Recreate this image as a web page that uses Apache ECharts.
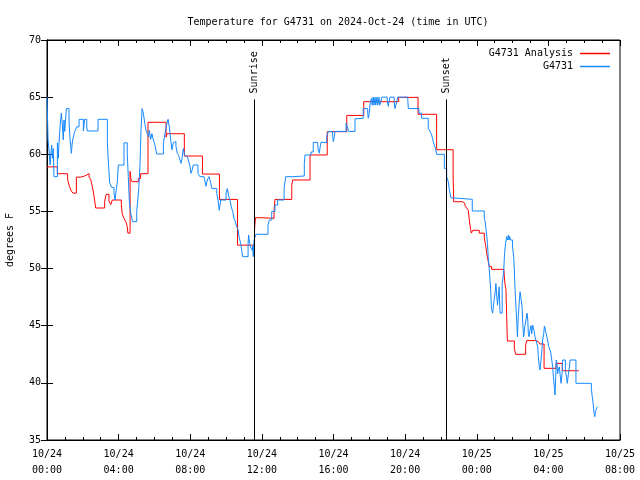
<!DOCTYPE html>
<html>
<head>
<meta charset="utf-8">
<script src="https://cdn.jsdelivr.net/npm/echarts@6/dist/echarts.min.js"></script>
<style>html,body{margin:0;padding:0;background:#fff}#c{width:640px;height:480px}</style>
</head>
<body>
<div id="c"></div>
<script>
// hours since 2024-10-24 00:00 UTC
const redHours = [0.0,0.58,1.15,1.25,1.35,1.45,1.64,1.88,2.1,2.22,2.35,2.44,2.53,2.62,2.72,3.22,3.31,3.46,3.56,3.65,4.15,4.2,4.3,4.4,4.48,4.52,4.64,4.69,4.75,5.1,5.23,5.64,6.65,6.7,7.67,8.68,9.63,10.64,11.59,11.64,11.95,12.05,12.68,12.73,13.67,13.72,14.69,15.65,16.74,17.69,19.64,20.72,21.76,22.68,22.71,23.21,23.34,23.44,23.53,23.58,23.66,23.7,23.77,24.14,24.42,24.5,24.55,24.65,24.7,24.83,25.52,25.58,25.63,25.67,25.71,26.1,26.17,26.73,26.79,27.3,27.44,27.53,27.76,28.43,28.78,29.69];
const redTemps = [58.9,58.3,57.8,57.2,56.8,56.6,58.0,58.1,58.2,58.3,58.0,57.8,57.2,56.4,55.3,55.9,56.5,55.9,55.6,56.0,55.6,54.8,54.4,54.1,53.7,53.1,58.5,57.8,57.6,57.9,58.3,62.8,61.5,61.8,59.85,58.27,56.05,52.05,53.4,54.45,54.3,54.4,55.0,56.05,57.3,57.75,59.94,61.98,63.4,64.6,64.98,63.5,60.4,58.2,55.85,55.7,55.5,55.3,55.1,54.3,53.4,53.1,53.35,53.1,52.7,52.0,51.4,50.55,50.17,49.93,49.7,48.6,48.2,45.9,43.66,43.0,42.5,43.3,43.7,43.6,43.5,43.4,41.27,41.7,41.06,41.06];

const blueHours = [0.0,0.06,0.11,0.17,0.21,0.26,0.3,0.35,0.39,0.58,0.63,0.67,0.73,0.8,0.86,0.91,0.95,0.99,1.08,1.23,1.28,1.36,1.41,1.47,1.55,1.66,1.79,2.03,2.1,2.22,2.25,2.85,3.37,3.42,3.5,3.61,3.74,3.8,3.85,3.93,3.98,4.3,4.48,4.54,4.6,4.67,4.78,5.01,5.12,5.19,5.25,5.31,5.38,5.46,5.53,5.6,5.68,5.71,5.79,5.86,5.94,6.03,6.12,6.5,6.59,6.68,6.76,6.83,6.91,6.98,7.05,7.15,7.2,7.28,7.35,7.43,7.48,7.54,7.61,7.69,7.76,7.84,7.91,7.99,8.04,8.1,8.17,8.43,8.54,8.77,8.88,8.95,9.05,9.14,9.21,9.48,9.55,9.62,9.7,10.0,10.07,10.15,10.22,10.29,10.37,10.44,10.52,10.59,10.67,10.74,10.82,10.87,10.93,11.23,11.26,11.32,11.37,11.45,11.49,11.52,11.56,11.62,11.67,12.34,12.42,12.55,12.73,12.88,13.24,13.33,13.72,14.37,14.41,14.74,14.87,15.12,15.15,15.21,15.25,15.3,15.62,15.71,15.95,15.99,16.05,16.08,16.7,16.77,16.85,17.2,17.26,17.66,17.91,17.94,17.98,18.02,18.06,18.13,18.16,18.22,18.26,18.32,18.36,18.43,18.47,18.54,18.58,18.65,18.69,19.0,19.06,19.1,19.16,19.39,19.43,19.53,19.58,20.15,20.18,20.77,20.92,21.29,21.39,21.48,21.53,21.57,21.63,21.7,21.76,22.19,22.32,22.41,22.47,22.55,22.6,23.75,24.42,24.47,24.52,24.6,24.64,24.7,24.78,24.82,24.89,24.95,25.02,25.07,25.12,25.16,25.25,25.3,25.42,25.5,25.55,25.61,25.67,25.7,25.73,25.77,25.8,25.84,25.88,26.0,26.06,26.1,26.14,26.19,26.23,26.27,26.32,26.38,26.42,26.53,26.57,26.62,26.69,26.75,26.81,26.85,26.88,26.92,26.97,27.03,27.07,27.12,27.18,27.2,27.25,27.35,27.4,27.44,27.46,27.49,27.53,27.59,27.64,27.68,27.74,27.78,27.81,27.85,27.91,27.96,28.02,28.07,28.13,28.19,28.24,28.28,28.33,28.37,28.41,28.44,28.48,28.52,28.55,28.61,28.65,28.71,28.76,28.8,28.95,29.02,29.06,29.11,29.17,29.21,29.54,30.4,30.45,30.51,30.55,30.59,30.63,30.66,30.7,30.73];
const blueTemps = [65.0,61.25,60.4,59.06,59.94,60.8,59.65,60.5,58.04,61.0,59.65,61.0,62.4,63.6,62.55,61.25,63.0,62.0,64.0,62.85,61.5,60.08,61.0,61.5,62.0,62.4,63.06,62.04,63.06,62.4,62.04,63.06,61.1,59.5,57.5,57.1,56.6,56.0,56.7,57.6,59.06,61.0,60.1,58.04,55.85,54.9,54.1,55.0,56.9,58.9,62.1,64.0,63.6,62.7,62.1,61.8,61.5,62.1,61.3,61.8,61.25,60.8,60.03,61.0,61.8,62.56,63.06,62.4,61.25,60.4,61.0,61.1,60.7,60.08,59.9,59.5,59.2,59.6,60.5,59.9,59.8,59.9,59.4,58.9,58.33,58.6,59.06,58.33,58.04,57.9,57.2,57.75,58.04,57.5,57.0,56.58,56.0,55.1,56.0,56.58,57.0,56.3,56.0,55.4,55.0,54.4,54.1,53.67,53.4,52.65,52.2,51.6,51.04,52.2,52.94,52.2,51.9,51.6,52.0,51.04,52.5,52.65,53.0,53.8,54.25,55.0,55.56,56.0,57.0,58.04,58.1,59.2,59.94,60.2,61.04,60.8,60.4,60.1,60.6,61.04,61.54,62.0,61.7,61.1,61.54,62.0,62.7,62.4,62.0,63.1,63.15,64.0,63.7,63.15,63.4,64.0,64.6,64.9,64.3,65.0,64.3,65.0,64.3,65.0,64.3,65.0,64.3,64.6,65.0,64.7,64.2,64.6,65.0,64.6,64.0,64.6,65.0,64.7,64.0,63.6,63.15,62.27,62.0,61.7,61.4,61.1,60.8,60.5,60.0,58.77,58.04,57.6,56.9,56.2,56.06,55.04,54.4,54.1,53.43,52.2,51.04,49.9,48.1,46.5,46.1,47.0,47.8,48.7,47.6,46.8,48.4,46.1,48.7,49.6,51.3,52.2,52.8,52.94,52.5,52.94,52.5,52.8,52.5,51.9,51.04,49.9,48.1,46.7,45.5,44.04,45.8,47.25,47.98,46.7,45.2,44.04,45.0,45.5,46.1,45.5,44.3,44.04,44.6,45.0,44.3,45.06,44.9,44.6,44.04,43.46,43.2,42.3,42.0,41.4,41.13,42.0,42.9,43.75,44.3,44.98,44.8,44.5,44.04,43.75,43.17,43.0,42.7,42.0,41.4,40.54,39.67,38.94,40.54,42.0,41.7,40.8,41.1,41.4,40.8,39.96,40.7,42.0,41.1,40.4,39.96,40.7,41.3,42.0,39.96,39.52,38.8,38.06,37.33,37.04,37.5,37.33,37.78,37.9];

const sunEvents = [{name: 'Sunrise', hour: 11.56}, {name: 'Sunset', hour: 22.28}];
const sunLineTop = 64.8;

const xMin = 0, xMax = 32, xStep = 4;
const yMin = 35, yMax = 70, yStep = 5;

const FONT = 'DejaVu Sans Mono';
const pad = n => (n < 10 ? '0' : '') + n;
const xLabel = v => (v < 24 ? '10/24' : '10/25') + '\n' + pad(v % 24) + ':00';

const zip = (a, b) => a.map((h, i) => [h, b[i]]);

const chart = echarts.init(document.getElementById('c'), null, {renderer: 'canvas'});
chart.setOption({
  animation: false,
  backgroundColor: '#fff',
  title: {
    text: 'Temperature for G4731 on 2024-Oct-24 (time in UTC)',
    left: 333, top: 12, textAlign: 'center',
    textStyle: {fontFamily: FONT, fontSize: 10, fontWeight: 'normal', color: '#000'}
  },
  legend: {
    orient: 'vertical', right: 25, top: 43, align: 'right',
    icon: 'rect', itemWidth: 30, itemHeight: 1.5, itemGap: 2,
    textStyle: {fontFamily: FONT, fontSize: 10, color: '#000', lineHeight: 11, padding: [0, 2, 0, 0]},
    data: ['G4731 Analysis', 'G4731']
  },
  grid: {left: 47, right: 20, top: 40, bottom: 40, show: true, borderColor: '#000', borderWidth: 1,
         containLabel: false, outerBoundsMode: 'none'},
  xAxis: [
    {type: 'value', min: xMin, max: xMax, interval: xStep, position: 'bottom',
     axisLine: {show: true, lineStyle: {color: '#000', width: 1}},
     axisTick: {show: true, inside: true, length: 6, lineStyle: {color: '#000'}},
     minorTick: {show: true, splitNumber: 4, length: 3, lineStyle: {color: '#000'}},
     splitLine: {show: false},
     axisLabel: {formatter: xLabel, fontFamily: FONT, fontSize: 10, color: '#000', lineHeight: 16, margin: 6}},
    {type: 'value', min: xMin, max: xMax, interval: xStep, position: 'top',
     axisLine: {show: true, lineStyle: {color: '#000', width: 1}},
     axisTick: {show: true, inside: true, length: 6, lineStyle: {color: '#000'}},
     minorTick: {show: true, splitNumber: 4, length: 3, lineStyle: {color: '#000'}},
     splitLine: {show: false}, axisLabel: {show: false}}
  ],
  yAxis: [
    {type: 'value', min: yMin, max: yMax, interval: yStep, position: 'left',
     name: 'degrees F', nameLocation: 'middle', nameGap: 32, nameRotate: 90,
     nameTextStyle: {fontFamily: FONT, fontSize: 10, color: '#000'},
     axisLine: {show: true, lineStyle: {color: '#000', width: 1}},
     axisTick: {show: true, inside: true, length: 6, lineStyle: {color: '#000'}},
     splitLine: {show: false},
     axisLabel: {fontFamily: FONT, fontSize: 10, color: '#000', margin: 6}},
    {type: 'value', min: yMin, max: yMax, interval: yStep, position: 'right',
     axisLine: {show: true, lineStyle: {color: '#000', width: 1}},
     axisTick: {show: true, inside: true, length: 6, lineStyle: {color: '#000'}},
     splitLine: {show: false}, axisLabel: {show: false}}
  ],
  series: [
    {
      name: 'G4731 Analysis', type: 'line', step: 'end', showSymbol: false, symbol: 'none',
      xAxisIndex: 0, yAxisIndex: 0,
      color: '#ff0000', lineStyle: {color: '#ff0000', width: 1},
      data: zip(redHours, redTemps),
      markLine: {
        silent: true, symbol: ['none', 'none'],
        lineStyle: {color: '#000', width: 1, type: 'solid'},
        label: {show: false},
        data: sunEvents.map(e => [{coord: [e.hour, yMin]}, {coord: [e.hour, sunLineTop]}])
      },
      markPoint: {
        silent: true, symbol: 'circle', symbolSize: 0,
        itemStyle: {color: 'rgba(0,0,0,0)'},
        label: {show: true, position: 'top', distance: 6, rotate: 90, align: 'left', verticalAlign: 'middle',
                fontFamily: FONT, fontSize: 10, color: '#000', formatter: p => p.name},
        data: sunEvents.map(e => ({name: e.name, coord: [e.hour, sunLineTop]}))
      }
    },
    {
      name: 'G4731', type: 'line', step: 'end', showSymbol: false, symbol: 'none',
      xAxisIndex: 0, yAxisIndex: 0,
      color: '#1488ff', lineStyle: {color: '#1488ff', width: 1},
      data: zip(blueHours, blueTemps)
    }
  ]
});
</script>
</body>
</html>
